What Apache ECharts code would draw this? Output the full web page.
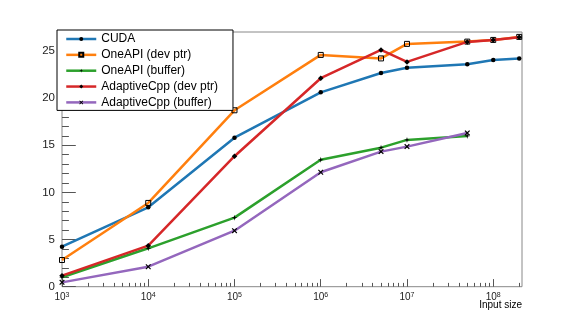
<!DOCTYPE html>
<html>
<head>
<meta charset="utf-8">
<script src="https://cdn.jsdelivr.net/npm/echarts@6/dist/echarts.min.js"></script>
<style>html,body{margin:0;padding:0;background:#fff;}#c{width:581px;height:319px;}</style>
</head>
<body>
<div id="c"></div>
<script>
// ---- data ----
const inputSizes = [1e3, 1e4, 1e5, 1e6, 5e6, 1e7, 5e7, 1e8, 2e8];
const cuda        = [4.24, 8.42, 15.8, 20.6, 22.66, 23.2, 23.58, 24.04, 24.18];
const oneapiDev   = [2.83, 8.88, 18.7, 24.57, 24.2, 25.74, 25.98, 26.16, 26.48];
const oneapiBuf   = [1.0, 4.07, 7.32, 13.45, 14.74, 15.56, 15.98];
const adaptiveDev = [1.17, 4.35, 13.83, 22.1, 25.1, 23.83, 25.95, 26.16, 26.45];
const adaptiveBuf = [0.46, 2.12, 5.94, 12.13, 14.32, 14.85, 16.3];
const seriesNames = ['CUDA', 'OneAPI (dev ptr)', 'OneAPI (buffer)', 'AdaptiveCpp (dev ptr)', 'AdaptiveCpp (buffer)'];
const xDecadeExponents = [3, 4, 5, 6, 7, 8];
const yTickLabels = [0, 5, 10, 15, 20, 25];
const xAxisTitle = 'Input size';

// ---- helpers ----
const X_MIN = 1000, X_MAX = 2.155e8, Y_MAX = 27;
const pairs = (vals) => vals.map((v, i) => [inputSizes[i], v]);
const minorX = [];
for (let n = 3; n <= 8; n++) for (let k = 2; k <= 9; k++) {
  const v = Math.log10(k * Math.pow(10, n));
  if (v <= Math.log10(X_MAX)) minorX.push(v);
}
const minorY = [];
for (let v = 1; v < Y_MAX; v++) if (v % 5 !== 0) minorY.push(v);

const font = 'Liberation Sans, Arial, Helvetica, sans-serif';
const colors = ['#1f77b4', '#ff7f0e', '#2ca02c', '#d62728', '#9467bd'];
const symbols = [
  {symbol: 'circle', size: 4.5, item: {color: '#000'}},
  {symbol: 'rect', size: 5, item: {color: 'rgba(255,255,255,0)', borderColor: '#000', borderWidth: 1}},
  {symbol: 'path://M5,0 L6,4 L10,5 L6,6 L5,10 L4,6 L0,5 L4,4 Z', size: 6, item: {color: '#000'}},
  {symbol: 'diamond', size: 5.5, item: {color: '#000'}},
  {symbol: 'path://M0,1.5 L1.5,0 L5,3.5 L8.5,0 L10,1.5 L6.5,5 L10,8.5 L8.5,10 L5,6.5 L1.5,10 L0,8.5 L3.5,5 Z', size: 5.5, item: {color: '#000'}}
];
const allData = [cuda, oneapiDev, oneapiBuf, adaptiveDev, adaptiveBuf];

const chart = echarts.init(document.getElementById('c'), null, {renderer: 'canvas'});
chart.setOption({
  animation: false,
  backgroundColor: '#fff',
  textStyle: {fontFamily: font},
  grid: {left: 62, right: 59, top: 32, bottom: 32.3, show: true, borderColor: '#888', borderWidth: 1, backgroundColor: 'transparent'},
  legend: {
    orient: 'vertical', left: 57, top: 30,
    padding: [2, 15, 1, 8],
    itemWidth: 30, itemHeight: 5, itemGap: 1.85,
    borderColor: '#000', borderWidth: 1, backgroundColor: '#fff',
    lineStyle: {width: 2.5},
    textStyle: {fontFamily: font, fontSize: 12, color: '#000', lineHeight: 14},
    data: seriesNames
  },
  xAxis: [
    {type: 'log', logBase: 10, min: X_MIN, max: X_MAX, gridIndex: 0,
     axisLine: {show: false}, axisTick: {show: false}, axisLabel: {show: false}, splitLine: {show: false},
     name: xAxisTitle, nameLocation: 'end', nameGap: 0,
     nameTextStyle: {fontFamily: font, fontSize: 10, color: '#000', align: 'right', verticalAlign: 'top', padding: [14, 0, 0, 0]}},
    {type: 'value', min: Math.log10(X_MIN), max: Math.log10(X_MAX), position: 'bottom',
     axisLine: {show: false}, splitLine: {show: false},
     axisTick: {show: true, inside: true, length: 7.6, lineStyle: {color: '#555'}, customValues: xDecadeExponents},
     axisLabel: {show: true, margin: 5, customValues: xDecadeExponents,
       formatter: (v) => '{b|10}{s|' + Math.round(v) + '}',
       rich: {b: {fontFamily: font, fontSize: 10, color: '#222', lineHeight: 12},
              s: {fontFamily: font, fontSize: 7, color: '#222', verticalAlign: 'top', lineHeight: 8}}}},
    {type: 'value', min: Math.log10(X_MIN), max: Math.log10(X_MAX), position: 'bottom',
     axisLine: {show: false}, splitLine: {show: false}, axisLabel: {show: false},
     axisTick: {show: true, inside: true, length: 3.8, lineStyle: {color: '#555'}, customValues: minorX}}
  ],
  yAxis: [
    {type: 'value', min: 0, max: Y_MAX, position: 'left',
     axisLine: {show: false}, splitLine: {show: false},
     axisTick: {show: true, inside: true, length: 13.8, lineStyle: {color: '#555'}, customValues: yTickLabels},
     axisLabel: {show: true, margin: 7, fontFamily: font, fontSize: 11.5, color: '#222', customValues: yTickLabels}},
    {type: 'value', min: 0, max: Y_MAX, position: 'left',
     axisLine: {show: false}, splitLine: {show: false}, axisLabel: {show: false},
     axisTick: {show: true, inside: true, length: 6.9, lineStyle: {color: '#555'}, customValues: minorY}}
  ],
  series: allData.map((vals, i) => ({
    name: seriesNames[i], type: 'line', xAxisIndex: 0, yAxisIndex: 0,
    data: pairs(vals),
    symbol: symbols[i].symbol, symbolSize: symbols[i].size, showSymbol: true,
    lineStyle: {color: colors[i], width: 2.5},
    itemStyle: symbols[i].item,
    emphasis: {disabled: true},
    z: 2 + i
  }))
});
</script>
</body>
</html>
